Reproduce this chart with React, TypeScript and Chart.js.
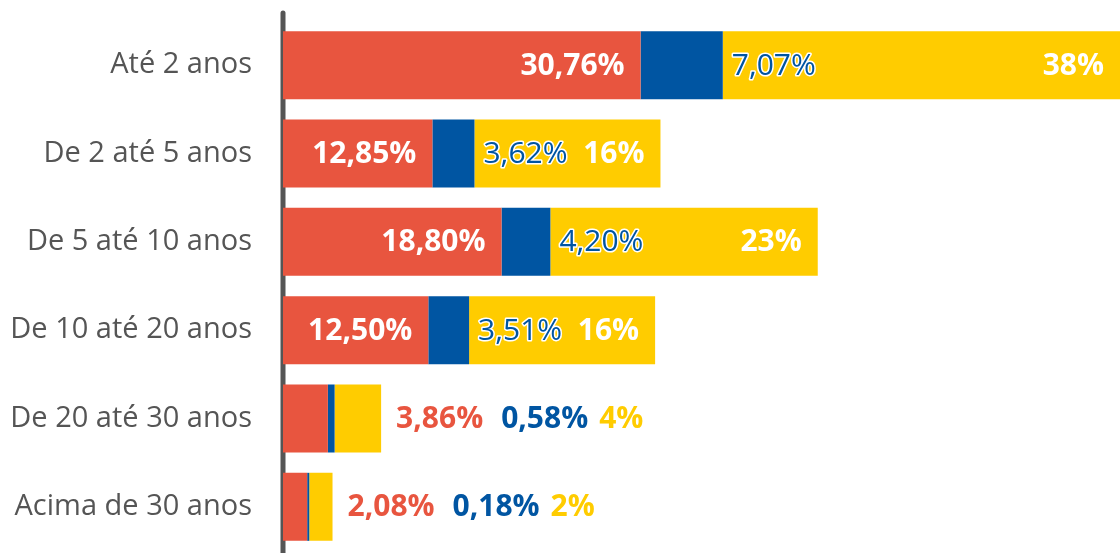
import React, { useEffect, useRef } from "react";
import { Chart, registerables } from "chart.js";

Chart.register(...registerables);

const categories = [
  "Até 2 anos",
  "De 2 até 5 anos",
  "De 5 até 10 anos",
  "De 10 até 20 anos",
  "De 20 até 30 anos",
  "Acima de 30 anos",
];
const redValues = [30.76, 12.85, 18.8, 12.5, 3.86, 2.08];
const blueValues = [7.07, 3.62, 4.2, 3.51, 0.58, 0.18];
const yellowValues = [38, 16, 23, 16, 4, 2];
const xMax = 72;

const RED = "#E8553F";
const BLUE = "#0055A2";
const YELLOW = "#FFCC00";
const GRAY = "#555555";
const FONT = "'Open Sans', 'Noto Sans', sans-serif";

const fmt2 = (v: number) => v.toFixed(2).replace(".", ",") + "%";
const fmt0 = (v: number) => `${Math.round(v)}%`;

const axisLinePlugin = {
  id: "axisLine",
  beforeDatasetsDraw(chart: any) {
    const { ctx, chartArea } = chart;
    ctx.save();
    ctx.strokeStyle = GRAY;
    ctx.lineWidth = 5;
    ctx.lineCap = "round";
    ctx.beginPath();
    ctx.moveTo(chartArea.left, chartArea.top - 8);
    ctx.lineTo(chartArea.left, chart.height + 5);
    ctx.stroke();
    ctx.restore();
  },
};

const labelPlugin = {
  id: "segLabels",
  afterDatasetsDraw(chart: any) {
    const { ctx, chartArea } = chart;
    const mr = chart.getDatasetMeta(0).data;
    const mb = chart.getDatasetMeta(1).data;
    const my = chart.getDatasetMeta(2).data;
    ctx.save();
    ctx.textBaseline = "middle";
    const bold = `bold 30px ${FONT}`;
    const reg = `30px ${FONT}`;
    for (let i = 0; i < categories.length; i++) {
      const r = mr[i];
      const b = mb[i];
      const y = my[i];
      const cy = r.y + 1;
      const redText = fmt2(redValues[i]);
      const blueText = fmt2(blueValues[i]);
      const yelText = fmt0(yellowValues[i]);
      ctx.font = bold;
      const redW = ctx.measureText(redText).width;
      const redSeg = r.x - r.base;
      if (redSeg >= redW + 30) {
        ctx.font = bold;
        ctx.textAlign = "right";
        ctx.fillStyle = "#FFFFFF";
        ctx.fillText(redText, r.x - 16, cy);

        ctx.font = reg;
        ctx.textAlign = "left";
        ctx.lineJoin = "round";
        ctx.strokeStyle = "#FFFFFF";
        ctx.lineWidth = 3;
        ctx.strokeText(blueText, b.x + 9, cy);
        ctx.fillStyle = BLUE;
        ctx.fillText(blueText, b.x + 9, cy);

        ctx.font = bold;
        ctx.textAlign = "right";
        ctx.fillStyle = "#FFFFFF";
        const end = Math.min(y.x, chartArea.right);
        ctx.fillText(yelText, end - 16, cy);
      } else {
        ctx.font = bold;
        ctx.textAlign = "left";
        let x = y.x + 15;
        ctx.fillStyle = RED;
        ctx.fillText(redText, x, cy);
        x += ctx.measureText(redText).width + 18;
        ctx.fillStyle = BLUE;
        ctx.fillText(blueText, x, cy);
        x += ctx.measureText(blueText).width + 11;
        ctx.fillStyle = YELLOW;
        ctx.fillText(yelText, x, cy);
      }
    }
    ctx.restore();
  },
};

export default function App() {
  const ref = useRef<HTMLCanvasElement | null>(null);

  useEffect(() => {
    document.body.style.margin = "0";
    const canvas = ref.current;
    if (!canvas) return;
    const chart = new Chart(canvas, {
      type: "bar",
      data: {
        labels: categories,
        datasets: [
          { label: "red", data: redValues, backgroundColor: RED, borderWidth: 0 },
          { label: "blue", data: blueValues, backgroundColor: BLUE, borderWidth: 0 },
          { label: "yellow", data: yellowValues, backgroundColor: YELLOW, borderWidth: 0 },
        ],
      },
      options: {
        indexAxis: "y",
        responsive: false,
        animation: false,
        maintainAspectRatio: false,
        layout: { padding: { top: 21, bottom: 2, left: 0, right: 0 } },
        datasets: {
          bar: { categoryPercentage: 1, barPercentage: 0.77 },
        },
        plugins: {
          legend: { display: false },
          title: { display: false },
          tooltip: { enabled: false },
        },
        scales: {
          x: {
            stacked: true,
            display: false,
            min: 0,
            max: xMax,
          },
          y: {
            stacked: true,
            grid: { display: false, drawTicks: false },
            border: { display: false },
            ticks: {
              color: GRAY,
              padding: 31,
              font: { family: FONT, size: 29, weight: "normal" },
            },
            afterFit(scale: any) {
              scale.width = 283;
              scale.paddingTop = 0;
              scale.paddingBottom = 0;
            },
          },
        },
      },
      plugins: [axisLinePlugin, labelPlugin],
    });
    return () => chart.destroy();
  }, []);

  return (
    <canvas
      ref={ref}
      width={1120}
      height={553}
      style={{ display: "block", width: 1120, height: 553 }}
    />
  );
}
